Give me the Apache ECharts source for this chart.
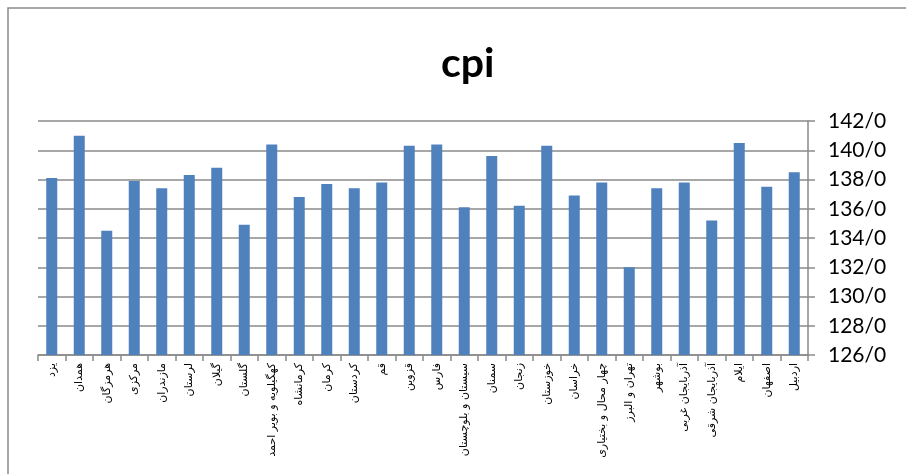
<!DOCTYPE html>
<html>
<head>
<meta charset="utf-8">
<script src="https://cdn.jsdelivr.net/npm/echarts@6/dist/echarts.min.js"></script>
<style>
  html, body { margin: 0; padding: 0; background: #fff; }
  #chart { width: 906px; height: 474px; }
</style>
</head>
<body>
<div id="chart"></div>
<script>
// استان‌ها از چپ به راست
const provinces = [
  'یزد', 'همدان', 'هرمزگان', 'مرکزی', 'مازندران', 'لرستان', 'گیلان', 'گلستان',
  'کهگیلویه و بویر احمد', 'کرمانشاه', 'کرمان', 'کردستان', 'قم', 'قزوین', 'فارس',
  'سیستان و بلوچستان', 'سمنان', 'زنجان', 'خوزستان', 'خراسان', 'چهار محال و بختیاری',
  'تهران و البرز', 'بوشهر', 'آذربایجان غربی', 'آذربایجان شرقی', 'ایلام', 'اصفهان', 'اردبیل'
]
// شاخص cpi هر استان
const cpiValues = [
  138.1, 141.0, 134.5, 137.9, 137.4, 138.3, 138.8, 134.9,
  140.4, 136.8, 137.7, 137.4, 137.8, 140.3, 140.4,
  136.1, 139.6, 136.2, 140.3, 136.9, 137.8,
  132.0, 137.4, 137.8, 135.2, 140.5, 137.5, 138.5
]
const axisMin = 126
const axisMax = 142
const axisStep = 2

const chart = echarts.init(document.getElementById('chart'))
const option = {
  animation: false,
  backgroundColor: '#fff',
  title: {
    text: 'cpi',
    left: 436,
    top: 38,
    textStyle: {
      fontFamily: 'Lato',
      fontWeight: 'bold',
      fontSize: 41,
      color: '#000'
    }
  },
  graphic: [
    {
      type: 'rect',
      shape: { x: 8, y: 8, width: 920, height: 500 },
      style: { fill: 'none', stroke: '#8a8a8a', lineWidth: 1.5 },
      silent: true
    }
  ],
  grid: {
    left: 38,
    right: 98,
    top: 121,
    bottom: 119
  },
  xAxis: {
    type: 'category',
    data: provinces,
    boundaryGap: true,
    axisLine: { lineStyle: { color: '#8a8a8a', width: 1.5 } },
    axisTick: { show: true, length: 6, lineStyle: { color: '#8a8a8a', width: 1.5 } },
    axisLabel: {
      interval: 0,
      rotate: 90,
      fontFamily: 'DejaVu Sans',
      fontSize: 11,
      color: '#000',
      margin: 8
    }
  },
  yAxis: {
    type: 'value',
    position: 'right',
    min: axisMin,
    max: axisMax,
    interval: axisStep,
    axisLine: { show: true, lineStyle: { color: '#8a8a8a', width: 1.5 } },
    axisTick: { show: true, length: 7, lineStyle: { color: '#8a8a8a', width: 1.5 } },
    splitLine: { lineStyle: { color: '#8a8a8a', width: 1.5 } },
    axisLabel: {
      fontFamily: 'Lato',
      fontSize: 21,
      color: '#000',
      margin: 20,
      formatter: (v) => v.toFixed(0) + '/0'
    }
  },
  series: [
    {
      type: 'bar',
      data: cpiValues,
      barWidth: 11,
      itemStyle: { color: '#4F81BD' }
    }
  ]
}
chart.setOption(option)
</script>
</body>
</html>
